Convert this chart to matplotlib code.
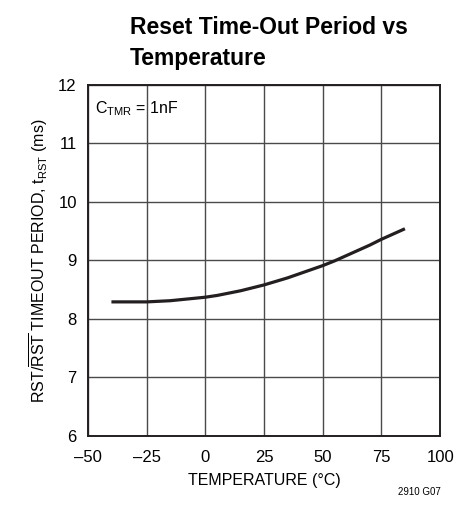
import matplotlib
matplotlib.use("Agg")
import matplotlib.pyplot as plt
import numpy as np

# 字体设置
plt.rcParams['font.family'] = ['Liberation Sans Narrow', 'Liberation Sans', 'DejaVu Sans']
plt.rcParams['mathtext.fontset'] = 'custom'
plt.rcParams['mathtext.rm'] = 'Liberation Sans'
plt.rcParams['mathtext.it'] = 'Liberation Sans'

# 数据
temperature = [-40, -35, -30, -25, -20, -15, -10, -5, 0, 5, 10, 15, 20, 25, 30,
               35, 40, 45, 50, 55, 60, 65, 70, 75, 80, 85]
t_rst = [8.29, 8.29, 8.29, 8.29, 8.30, 8.31, 8.33, 8.35, 8.37, 8.40, 8.44, 8.48,
         8.53, 8.58, 8.64, 8.70, 8.77, 8.84, 8.91, 8.99, 9.08, 9.17, 9.26, 9.36,
         9.45, 9.54]

x_ticks = [-50, -25, 0, 25, 50, 75, 100]
y_ticks = [6, 7, 8, 9, 10, 11, 12]

fig = plt.figure(figsize=(4.58, 5.08), dpi=100)
ax = fig.add_axes([0.192, 0.142, 0.769, 0.691])

ax.plot(temperature, t_rst, color='#231f20', linewidth=2.3, solid_capstyle='butt')

ax.set_xlim(-50, 100)
ax.set_ylim(6, 12)
ax.set_xticks(x_ticks)
ax.set_yticks(y_ticks)
ax.set_xticklabels([f'{v:d}'.replace('-', '\u2013') for v in x_ticks], fontsize=12)
ax.set_yticklabels([str(v) for v in y_ticks], fontsize=12)
ax.tick_params(axis='x', length=0, pad=10)
ax.tick_params(axis='y', length=0, pad=8)
ax.grid(True, color='#4a4a4a', linewidth=1.0)
for s in ax.spines.values():
    s.set_linewidth(1.4)
    s.set_color('#231f20')

ax.set_xlabel('TEMPERATURE (°C)', fontsize=11.5, labelpad=6)
ax.set_ylabel(r'RST/$\overline{\mathrm{RST}}$ TIMEOUT PERIOD, t$_{\mathrm{RST}}$ (ms)',
              fontsize=11.5, labelpad=6)

ax.text(-47, 11.6, r'C$_{\mathrm{TMR}}$ = 1nF', fontsize=11.5, va='center', ha='left')

fig.text(0.284, 0.968, 'Reset Time-Out Period vs\nTemperature', fontsize=16.5,
         fontweight='bold', ha='left', va='top', linespacing=1.45)
fig.text(0.869, 0.031, '2910 G07', fontsize=7, ha='left', va='center')

plt.savefig('out.png', dpi=100)
plt.close()
